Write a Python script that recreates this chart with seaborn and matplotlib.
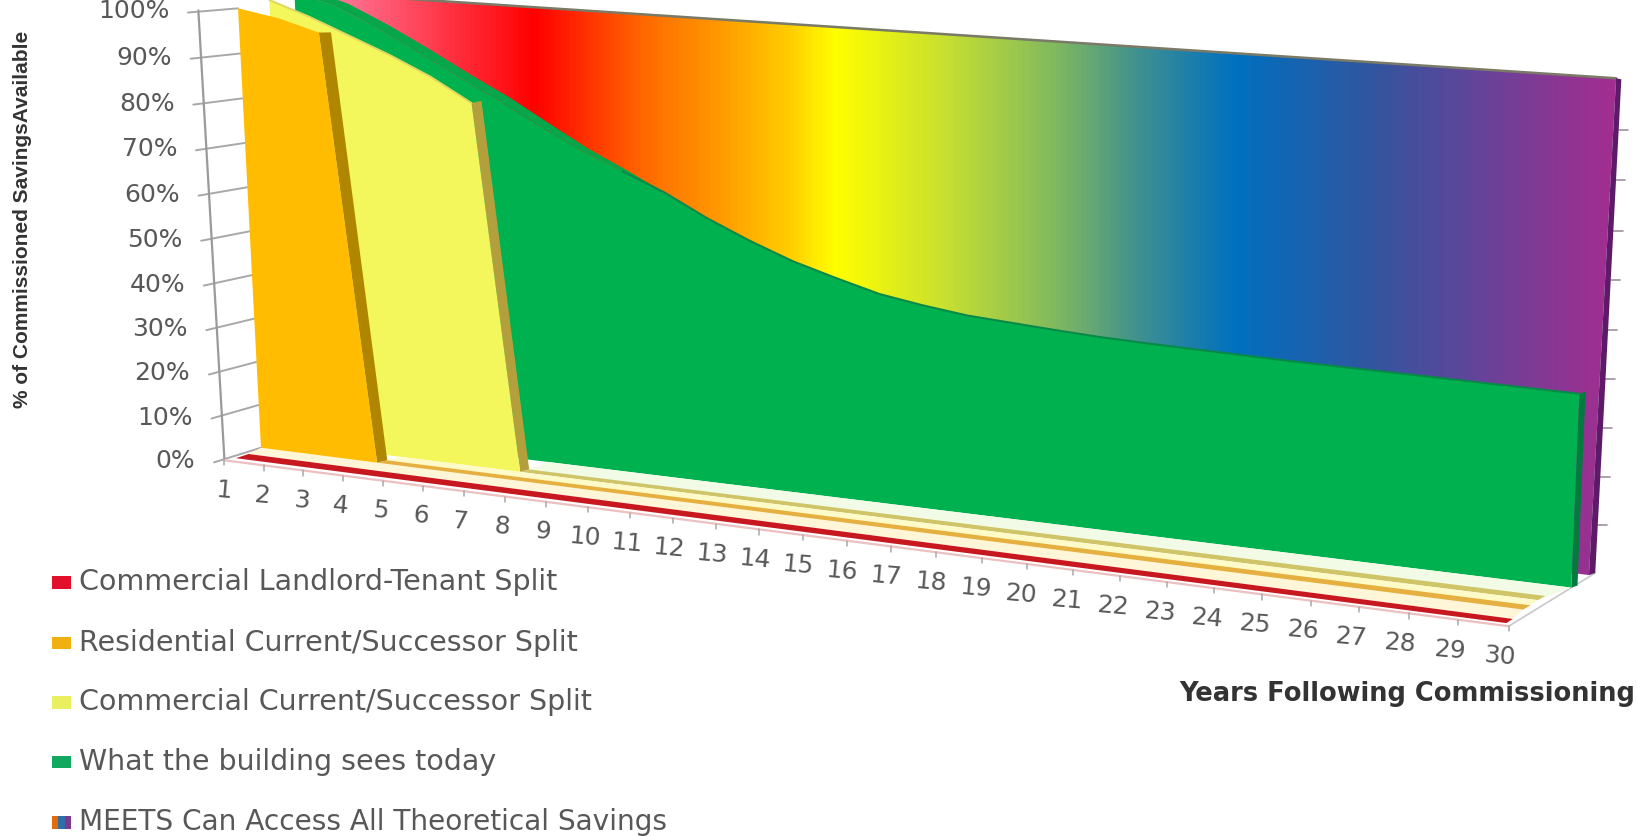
import numpy as np
import matplotlib
matplotlib.use("Agg")
import matplotlib.pyplot as plt
from matplotlib.colors import LinearSegmentedColormap
from matplotlib.patches import Polygon, Rectangle
import seaborn as sns

# data
years = np.arange(1, 31)
year_labels = [str(y) for y in years]
pct_ticks = np.arange(0, 101, 10)
pct_labels = [f"{p}%" for p in pct_ticks]

red_values = np.zeros(30)
orange_values = np.array([100, 98.5, 96, 0] + [0] * 26, dtype=float)
yellow_values = np.array([100, 97, 93.5, 90, 86, 81, 0] + [0] * 23, dtype=float)
green_values = np.array([100, 97.5, 93.5, 89, 84.2, 79.7, 74.8, 70.2, 66.5, 62.7, 58, 54, 50.5, 47.8, 45.3,
                         43.8, 42.6, 42, 41.4, 40.9, 40.6, 40.4, 40.2, 40, 39.9,
                         39.8, 39.7, 39.6, 39.5, 39.4])
meets_values = np.full(30, 100.0)

legend_labels = ["Commercial Landlord-Tenant Split", "Residential Current/Successor Split",
                 "Commercial Current/Successor Split", "What the building sees today",
                 "MEETS Can Access All Theoretical Savings"]
legend_colors = ["#e2102a", "#f0b010", "#e8f060", "#12a860"]

# the 3d look: each depth plane is given by where its corners land
# (year 1 / 0%, year 30 / 0%, year 1 / 100%, year 30 / 100%)
planes = {
    "axis": [(215, 441), (1445, 600), (190, 10), (1465, 108)],
    "red_f": [(226, 439), (1443, 597), (205, 8), (1465, 106)],
    "red_b": [(238, 435), (1449, 593), (215, 8), (1472, 104)],
    "orange_f": [(250, 429), (1459, 584), (228, 8), (1483, 102)],
    "orange_b": [(260, 427), (1466, 580), (240, 8), (1490, 100)],
    "yellow_f": [(275, 424), (1473, 575), (258, 0), (1497, 94)],
    "yellow_b": [(284, 422), (1480, 571), (268, -2), (1505, 91)],
    "green_f": [(300, 415), (1505, 563), (282, -8), (1525, 83)],
    "green_b": [(310, 413), (1511, 561), (296, -10), (1531, 81)],
    "wall_f": [(330, 400), (1522, 551), (300, -7), (1548, 75)],
    "wall_b": [(345, 398), (1528, 549), (320, -8), (1553, 76)],
}


def foreshorten(t, k):
    return t / (t + k * (1 - t))


def project(plane, year, pct):
    lb, rb, lt, rt = [np.array(c, dtype=float) for c in planes[plane]]
    s = foreshorten((np.asarray(year, dtype=float) - 1) / 29, 1.139)[..., None]
    q = foreshorten(np.asarray(pct, dtype=float) / 100, 1.03)[..., None]
    bottom = lb + (rb - lb) * s
    top = lt + (rt - lt) * s
    return bottom + (top - bottom) * q


def face(plane, vals):
    # front of an area: top edge then back along the floor
    top = project(plane, years, vals)
    base = project(plane, years, np.zeros(30))
    return np.vstack([top, base[::-1]])


def band(front, back, yrs, vals):
    return np.vstack([project(front, yrs, vals), project(back, yrs, vals)[::-1]])


sns.set_theme(style="white")
plt.rcParams["font.family"] = ["DejaVu Sans"]
grey = "#585858"

fig = plt.figure(figsize=(16.37, 8.36), dpi=100)
ax = fig.add_axes([0, 0, 1, 1])

# back wall with rainbow fill
rainbow = LinearSegmentedColormap.from_list("rainbow_wall", [
    (0.00, "#ff6f90"), (0.147, "#ff0000"), (0.235, "#ff6a00"), (0.30, "#ffa000"), (0.35, "#ffd000"),
    (0.385, "#ffff00"), (0.47, "#c8e030"), (0.56, "#7fb860"), (0.624, "#3f9090"), (0.70, "#0070c0"),
    (0.81, "#33559f"), (1.00, "#a52d90")])
wall_poly = Polygon(face("wall_f", meets_values), closed=True, transform=ax.transData,
                    facecolor="none", edgecolor="none")
ax.add_patch(wall_poly)
grad_x = np.linspace(290, 1550, 512)
img = ax.imshow(np.clip((grad_x - 330) / 1220, 0, 1)[None, :], cmap=rainbow, aspect="auto",
                extent=[290, 1550, 801, 0], zorder=1)
img.set_clip_path(wall_poly)
ax.plot(*project("wall_f", years, meets_values).T, color="#7a7a66", lw=1.8, zorder=1.5)
side = np.vstack([project("wall_f", [30, 30], [100, 0]), project("wall_b", [30, 30], [0, 100])])
ax.add_patch(Polygon(side, closed=True, facecolor="#5c1a68", edgecolor="none", zorder=1.6))

# y ticks and axis line
for p, lab in zip(pct_ticks, pct_labels):
    a = project("axis", 1, p)
    b = project("orange_f", 1, p)
    sns.lineplot(x=[a[0] - 10, b[0]], y=[a[1] + 2, b[1]], color="#a8a8a8", lw=1.4, ax=ax,
                 estimator=None, sort=False, legend=False, zorder=0.5)
    ax.text(a[0] - 28, a[1] + 1, lab, ha="right", va="center", color=grey, fontsize=18)
    w = project("wall_b", 30, p)
    if 0 < p < 100:
        ax.plot([w[0], w[0] + 9], [w[1], w[1]], color="#a090a0", lw=1.2, zorder=0.5)
a0, a1 = project("axis", 1, 0), project("axis", 1, 100)
ax.plot([a0[0], a1[0]], [a0[1], a1[1]], color="#9a9a9a", lw=1.6, zorder=0.6)

# floor outline on the right
ax.plot(*np.array([project("axis", 30, 0), project("wall_b", 30, 0)]).T, color="#c8c8c8", lw=1.2, zorder=0.6)

# green, the top surface only shows in the steep early years and thins out
early = years <= 10
taper = np.array([1, 1, 1, 1, 1, 1, 0.9, 0.7, 0.4, 0])[..., None]
green_front = project("green_f", years[early], green_values[early])
green_back = project("green_b", years[early], green_values[early])
band_pts = np.vstack([green_front, (green_front + (green_back - green_front) * taper)[::-1]])
ax.add_patch(Polygon(band_pts, closed=True, facecolor="#07a64a", edgecolor="none", zorder=2))
side = np.vstack([project("green_f", [30, 30], [green_values[-1], 0]),
                  project("green_b", [30, 30], [0, green_values[-1]])])
ax.add_patch(Polygon(side, closed=True, facecolor="#047a40", edgecolor="none", zorder=2.1))
ax.add_patch(Polygon(face("green_f", green_values), closed=True, facecolor="#00b14f", edgecolor="none", zorder=2.2))
edge = project("green_f", years[years >= 9], green_values[years >= 9])
sns.lineplot(x=edge[:, 0], y=edge[:, 1], color="#078a48", lw=1.5, ax=ax, estimator=None,
             sort=False, legend=False, zorder=2.3)

# yellow
zero_y = years >= 7
top_y = years <= 6
ax.add_patch(Polygon(band("yellow_f", "green_f", years[zero_y], yellow_values[zero_y]), closed=True,
                     facecolor="#f2fbe6", edgecolor="none", zorder=2.4))
side = np.vstack([project("yellow_f", [6, 7], [yellow_values[5], 0]),
                  project("yellow_b", [7, 6], [0, yellow_values[5]])])
ax.add_patch(Polygon(side, closed=True, facecolor="#b3a03c", edgecolor="none", zorder=3.1))
ax.add_patch(Polygon(band("yellow_f", "yellow_b", years[zero_y], yellow_values[zero_y]), closed=True,
                     facecolor="#d0c468", edgecolor="none", zorder=3.1))
ax.add_patch(Polygon(face("yellow_f", yellow_values), closed=True, facecolor="#f3f75c", edgecolor="none", zorder=3.2))
ax.plot(*project("yellow_f", years[top_y], yellow_values[top_y]).T, color="#dcd860", lw=1.4, zorder=3.25)

# orange
zero_o = years >= 4
ax.add_patch(Polygon(band("orange_f", "yellow_f", years[zero_o], orange_values[zero_o]), closed=True,
                     facecolor="#fffbc8", edgecolor="none", zorder=3.3))
side = np.vstack([project("orange_f", [3, 4], [orange_values[2], 0]),
                  project("orange_b", [4, 3], [0, orange_values[2]])])
ax.add_patch(Polygon(side, closed=True, facecolor="#b08600", edgecolor="none", zorder=4.1))
ax.add_patch(Polygon(band("orange_f", "orange_b", years[zero_o], orange_values[zero_o]), closed=True,
                     facecolor="#e6b040", edgecolor="none", zorder=4.1))
ax.add_patch(Polygon(face("orange_f", orange_values), closed=True, facecolor="#ffbc00", edgecolor="none", zorder=4.2))

# red strip on the floor
ax.add_patch(Polygon(band("red_b", "orange_f", years, red_values), closed=True,
                     facecolor="#fff6d8", edgecolor="none", zorder=3.25))
ax.add_patch(Polygon(band("red_f", "red_b", years, red_values), closed=True,
                     facecolor="#c8181f", edgecolor="none", zorder=4.3))

# x axis line, ticks and labels
axis_pts = project("axis", years, np.zeros(30))
sns.lineplot(x=axis_pts[:, 0], y=axis_pts[:, 1], color="#ecc0c0", lw=1.6, ax=ax, estimator=None,
             sort=False, legend=False, zorder=0.7)
for i, (pt, lab) in enumerate(zip(axis_pts, year_labels)):
    ax.plot([pt[0], pt[0]], [pt[1], pt[1] + 5], color="#a8a8a8", lw=1.1, zorder=0.7)
    ax.text(pt[0] - 1 - 8 * i / 29, pt[1] + 29, lab, ha="center", va="center", color=grey,
            fontsize=18, rotation=-5)

ax.text(1566, 665, "Years Following Commissioning", ha="right", va="center", color="#333333",
        fontsize=18.5, fontweight="bold")
ax.text(22, 210, "% of Commissioned SavingsAvailable", rotation=90, ha="center", va="center",
        color="#333333", fontsize=15, fontweight="bold", family=["Liberation Sans", "DejaVu Sans"])

# legend
legend_y = [558, 616, 673, 730, 788]
legend_sizes = [20.5, 20.5, 20.5, 20.5, 20.2]
for lab, yy, col, size in zip(legend_labels, legend_y, legend_colors + [None], legend_sizes):
    if col is None:
        for k, c in enumerate(["#e36c0a", "#2f6fa8", "#7a3a90"]):
            ax.add_patch(Rectangle((50 + k * 6, yy - 6), 6, 12, facecolor=c, edgecolor="none"))
    else:
        ax.add_patch(Rectangle((50, yy - 6), 18, 12, facecolor=col, edgecolor="none"))
    ax.text(76, yy, lab, ha="left", va="center", color=grey, fontsize=size)

ax.set_xlim(0, 1568)
ax.set_ylim(801, 0)
ax.axis("off")
fig.savefig("out.png", dpi=100)
